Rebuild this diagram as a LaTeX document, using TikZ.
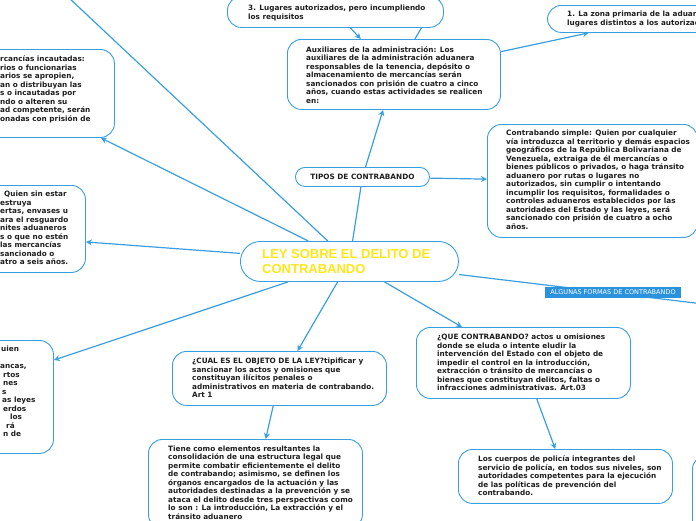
\documentclass[tikz,border=0pt]{standalone}
\usepackage{fontspec}
\setmainfont{DejaVu Sans}
\newfontfamily\titlefont{Liberation Sans}
\usetikzlibrary{arrows.meta,calc}
\definecolor{mblue}{HTML}{3A9FE2}
\definecolor{lblue}{HTML}{2B93DE}
\definecolor{ttl}{HTML}{FFE619}
\definecolor{ink}{HTML}{1E1E1E}
\pgfdeclarelayer{bg}
\pgfsetlayers{bg,main}
\tikzset{
  box/.style={draw=mblue, line width=0.9pt, fill=white, rounded corners=14pt, anchor=north west, inner sep=0pt},
  txt/.style={anchor=west, align=left, inner sep=0pt, font=\fontsize{7.3}{8.5}\selectfont\bfseries, text=ink},
  conn/.style={draw=mblue, line width=1.2pt},
  arr/.style={conn, -{Stealth[length=6pt,width=6pt]}},
}
\begin{document}
\begin{tikzpicture}[x=1pt,y=-1pt]
\useasboundingbox (0,0) rectangle (696,520);

% boxes
\node[box, minimum width=216pt, minimum height=31pt] (lug) at (227,-4) {};
\node[box, minimum width=213pt, minimum height=27pt] (zona) at (547,5) {};
\node[box, minimum width=213pt, minimum height=70pt] (aux) at (287,39) {};
\node[box, minimum width=210pt, minimum height=113pt] (simple) at (487,124) {};
\node[box, rounded corners=9.5pt, minimum width=134pt, minimum height=19pt] (tipos) at (295,167) {};
\node[box, rounded corners=20pt, minimum width=218pt, minimum height=40pt] (central) at (240,241) {};
\node[box, minimum width=134pt, minimum height=88pt] (merc) at (-20,49) {};
\node[box, minimum width=105pt, minimum height=87pt] (quien) at (-20,185) {};
\node[box, minimum width=73pt, minimum height=113pt] (ll) at (-20,340) {};
\node[box, minimum width=214pt, minimum height=54pt] (cual) at (172,351) {};
\node[box, minimum width=214pt, minimum height=71pt] (que) at (416,327) {};
\node[box, minimum width=214pt, minimum height=89pt] (tiene) at (148,439) {};
\node[box, minimum width=214pt, minimum height=54pt] (cuerpos) at (458,449) {};
\node[box, minimum width=80pt, minimum height=90pt] (partial) at (692,455) {};

\coordinate (tl) at (68,-3);
\coordinate (top2) at (445,-12);
\coordinate (rt) at (720,306);

% texts
\node[txt] (lugT) at (248,13) {3. Lugares autorizados, pero incumpliendo\\los requisitos};
\node[txt] (zonaT) at (567,19) {1. La zona primaria de la aduana\\lugares distintos a los autorizados};
\node[txt] (auxT) at (306,75) {Auxiliares de la administración: Los\\auxiliares de la administración aduanera\\responsables de la tenencia, depósito o\\almacenamiento de mercancías serán\\sancionados con prisión de cuatro a cinco\\años, cuando estas actividades se realicen\\en:};
\node[txt] (simpleT) at (506,180) {Contrabando simple: Quien por cualquier\\vía introduzca al territorio y demás espacios\\geográficos de la República Bolivariana de\\Venezuela, extraiga de él mercancías o\\bienes públicos o privados, o haga tránsito\\aduanero por rutas o lugares no\\autorizados, sin cumplir o intentando\\incumplir los requisitos, formalidades o\\controles aduaneros establecidos por las\\autoridades del Estado y las leyes, será\\sancionado con prisión de cuatro a ocho\\años.};
\node[txt, anchor=center] (tiposT) at (tipos) {TIPOS DE CONTRABANDO};
\node[anchor=west, align=left, inner sep=0pt, text=ttl, font=\titlefont\bfseries\fontsize{13}{14.5}\selectfont] (centralT) at (262,261.5) {LEY SOBRE EL DELITO DE\\CONTRABANDO};
\node[txt] (mercT) at (0,89.5) {rcancías incautadas:\\rios o funcionarias\\arios se apropien,\\an o distribuyan las\\s o incautadas por\\ndo o alteren su\\ad competente, serán\\onadas con prisión de};
\node[txt] (quienT) at (0,228) {\hspace*{4pt}Quien sin estar\\estruya\\ertas, envases u\\ara el resguardo\\nites aduaneros\\s o que no estén\\las mercancías\\sancionado o\\atro a seis años.};
\node[txt] (llT) at (0,391.5) {\hspace*{1pt}uien\\\mbox{}\\ancas,\\\hspace*{3pt}rtos\\\hspace*{3pt}nes\\\hspace*{2pt}s\\\hspace*{2pt}as leyes\\\hspace*{3pt}erdos\\\hspace*{10pt}los\\\hspace*{6pt}rá\\\hspace*{3pt}n de};
\node[txt] (cualT) at (192,378) {¿CUAL ES EL OBJETO DE LA LEY?tipificar y\\sancionar los actos y omisiones que\\constituyan ilícitos penales o\\administrativos en materia de contrabando.\\Art 1};
\node[txt] (queT) at (437,362.5) {¿QUE CONTRABANDO? actos u omisiones\\donde se eluda o intente eludir la\\intervención del Estado con el objeto de\\impedir el control en la introducción,\\extracción o tránsito de mercancías o\\bienes que constituyan delitos, faltas o\\infracciones administrativas. Art.03};
\node[txt] (tieneT) at (168,482.5) {Tiene como elementos resultantes la\\consolidación de una estructura legal que\\permite combatir eficientemente el delito\\de contrabando; asimismo, se definen los\\órganos encargados de la actuación y las\\autoridades destinadas a la prevención y se\\ataca el delito desde tres perspectivas como\\lo son : La introducción, La extracción y el\\tránsito aduanero};
\node[txt] (cuerposT) at (478,476) {Los cuerpos de policía integrantes del\\servicio de policía, en todos sus niveles, son\\autoridades competentes para la ejecución\\de las políticas de prevención del\\contrabando.};

% label on connector
\node[fill=lblue, text=white, inner sep=0pt, minimum width=136pt, minimum height=11pt, font=\fontsize{6.5}{7}\selectfont] (algunas) at (613,292.5) {ALGUNAS FORMAS DE CONTRABANDO};

% connectors
\begin{pgfonlayer}{bg}
\draw[conn] (central) -- (tl);
\draw[arr] (central) -- ([xshift=-14pt]merc.south east);
\draw[arr] (central) -- ([yshift=-13pt]quien.east);
\draw[arr] (central) -- ([yshift=-20pt]ll.north east);
\draw[arr] (central) -- ([xshift=18pt]cual.north);
\draw[arr] (cual) -- (tiene);
\draw[arr] (central) -- (que);
\draw[arr] (que) -- (cuerpos);
\draw[conn] (central) -- (tipos);
\draw[arr] (tipos) -- (aux);
\draw[arr] (tipos) -- (simple);
\draw[arr] (aux) -- (zona);
\draw[arr] (lug) -- (aux);
\draw[conn] (aux) -- (top2);
\draw[conn] (central) -- (rt);
\end{pgfonlayer}
\end{tikzpicture}
\end{document}
